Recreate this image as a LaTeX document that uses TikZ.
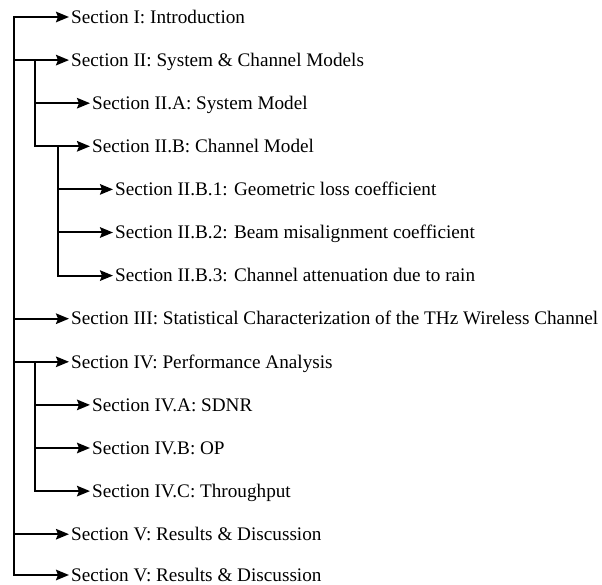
\documentclass[tikz,border=0pt]{standalone}
\usepackage{fontspec}
\setmainfont{Liberation Serif}
\usetikzlibrary{arrows.meta}
\begin{document}
\begin{tikzpicture}[x=1pt,y=-1pt,
  lbl/.style={anchor=base west,inner sep=0pt,font=\fontsize{19.2}{22}\selectfont},
  conn/.style={line width=2pt,line cap=rect},
  arr/.style={conn,-{Stealth[length=13pt,width=10.5pt,inset=2pt]}}]
\useasboundingbox (0,0) rectangle (602,585);
% text nodes
\node[lbl] (s1)  at (71,23.2)  {Section I: Introduction};
\node[lbl] (s2)  at (71,66.3)  {Section II: System \& Channel Models};
\node[lbl] (s3)  at (92,109.4) {Section II.A: System Model};
\node[lbl] (s4)  at (92,152.5) {Section II.B: Channel Model};
\node[lbl] (s5)  at (115,195.6) {Section II.B.1: Geometric loss coefficient};
\node[lbl] (s6)  at (115,238.7) {Section II.B.2: Beam misalignment coefficient};
\node[lbl] (s7)  at (115,281.8) {Section II.B.3: Channel attenuation due to rain};
\node[lbl] (s8)  at (71,324.9) {Section III: Statistical Characterization of the THz Wireless Channel};
\node[lbl] (s9)  at (71,368.0) {Section IV: Performance Analysis};
\node[lbl] (s10) at (92,411.1) {Section IV.A: SDNR};
\node[lbl] (s11) at (92,454.2) {Section IV.B: OP};
\node[lbl] (s12) at (92,497.3) {Section IV.C: Throughput};
\node[lbl] (s13) at (71,540.4) {Section V: Results \& Discussion};
\node[lbl] (s14) at (71,581.0) {Section V: Results \& Discussion};
% branch points
\coordinate (a1)  at (14,17);
\coordinate (a2)  at (14,60.1);
\coordinate (a8)  at (14,318.7);
\coordinate (a9)  at (14,361.8);
\coordinate (a13) at (14,534.2);
\coordinate (a14) at (14,575.0);
\coordinate (b2)  at (35,60.1);
\coordinate (b3)  at (35,103.2);
\coordinate (b4)  at (35,146.3);
\coordinate (c4)  at (58,146.3);
\coordinate (c5)  at (58,189.4);
\coordinate (c6)  at (58,232.5);
\coordinate (c7)  at (58,275.6);
\coordinate (b9)  at (35,361.8);
\coordinate (b10) at (35,404.9);
\coordinate (b11) at (35,448);
\coordinate (b12) at (35,491.1);
% trunks
\draw[conn] (a1) -- (a14);
\draw[conn] (b2) -- (b4);
\draw[conn] (c4) -- (c7);
\draw[conn] (b9) -- (b12);
% arrows
\foreach \s/\t in {a1/s1,a2/s2,a8/s8,a9/s9,a13/s13,a14/s14,b3/s3,b4/s4,c5/s5,c6/s6,c7/s7,b10/s10,b11/s11,b12/s12}
  \draw[arr] (\s) -- ([xshift=-2pt]\t.base west |- \s);
\end{tikzpicture}
\end{document}
